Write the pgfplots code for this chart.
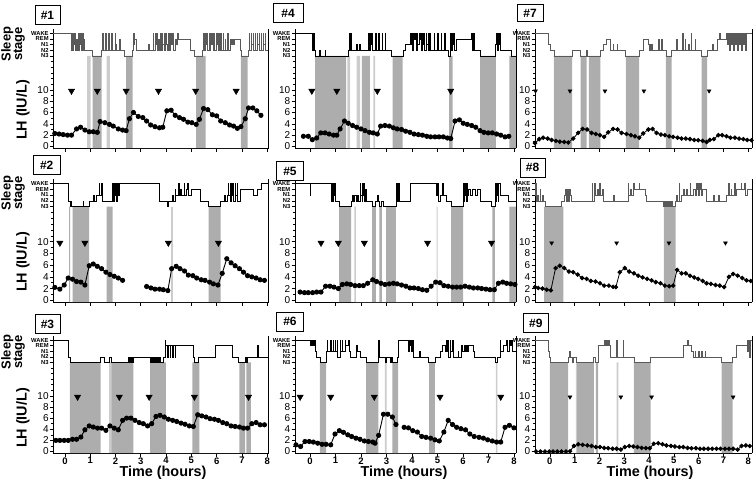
\documentclass[border=0pt]{standalone}
\usepackage{pgfplots}
\pgfplotsset{compat=1.18}
\usepackage{fontspec}
\setmainfont{Liberation Sans}
\definecolor{shd}{gray}{0.68}
\definecolor{shl}{gray}{0.80}
\newcommand{\stg}[1]{{\fontsize{5.8}{6}\selectfont\bfseries #1}}
\pgfplotsset{
  panel/.style={
    scale only axis, clip=false,
    axis x line*=bottom, axis y line*=left,
    axis line style={line width=0.8pt},
    every tick/.style={line width=0.6pt, black},
    tick align=outside, major tick length=3.5pt, minor tick length=2.2pt,
    ymin=-0.3, ymax=20.8,
    xtick={0,1,2,3,4,5,6,7,8}, xticklabels={},
    ytick={0,2,4,6,8,10,16,17,18,19,20},
    yticklabels={0,2,4,6,8,10,\stg{N3},\stg{N2},\stg{N1},\stg{REM},\stg{WAKE}},
    minor ytick={1,3,5,7,9,11,12,13,14,15},
    yticklabel style={font=\fontsize{10}{10}\selectfont, inner sep=1pt},
    after end axis/.append code={\draw[line width=0.8pt] (rel axis cs:1,0)--(rel axis cs:1,1);},
  },
  col1/.style={xmin=-0.46,xmax=8.05,width=215.2pt},
  col2/.style={xmin=-0.59,xmax=8.08,width=221pt},
  col3/.style={xmin=-0.6,xmax=8.15,width=217pt},
  row1/.style={height=119.6pt},
  row2/.style={height=123.4pt},
  row3/.style={height=117.5pt, xticklabels={0,1,2,3,4,5,6,7,8},
     xticklabel style={font=\fontsize{9.5}{9.5}\selectfont\bfseries, inner sep=0.5pt}},
  hyp/.style={const plot, line width=0.55pt, black, no marks},
  hypg/.style={const plot, line width=0.55pt, black!65, no marks},
  lh/.style={black, line width=0.9pt, mark=*, mark size=2.1pt, mark options={fill=black}},
  lhs/.style={black, line width=0.8pt, mark=*, mark size=1.85pt, mark options={fill=black}},
  tri/.style={only marks, mark=triangle*, mark size=3.6pt, mark options={rotate=180, fill=black, draw=black}},
  tris/.style={only marks, mark=triangle*, mark size=2.3pt, mark options={rotate=180, fill=black, draw=black}},
}
\begin{document}
\begin{tikzpicture}
\path[use as bounding box] (0,0) rectangle (756pt,483pt);

% ================= Panel 1 =================
\begin{axis}[panel,col1,row1,at={(53.3pt,334.8pt)},anchor=south west]
\addplot[fill=shl,draw=none] coordinates {(0.88,-0.3)(0.88,16)(1.02,16)(1.02,-0.3)(1.65,-0.3)(1.65,16)(1.78,16)(1.78,-0.3)} -- cycle;
\addplot[fill=shd,draw=none] coordinates {(1.10,-0.3)(1.10,16)(1.45,16)(1.45,-0.3)(2.42,-0.3)(2.42,16)(2.68,16)(2.68,-0.3)(5.19,-0.3)(5.19,16)(5.56,16)(5.56,-0.3)(6.96,-0.3)(6.96,16)(7.22,16)(7.22,-0.3)} -- cycle;
\addplot[hypg] coordinates {(-0.46,20)(0.25,17)(0.28,20)(0.30,17)(0.34,20)(0.36,18)(0.40,20)(0.42,17)(0.46,19)(0.48,17)(0.52,20)(0.54,17)(0.58,20)(0.60,18)(0.64,20)(0.66,17)(0.70,20)(0.72,17)(0.76,19)(0.78,17)(1.08,16)(1.45,17)(1.47,20)(1.50,17)(1.60,20)(1.62,17)(1.72,20)(1.74,17)(1.85,20)(1.87,17)(1.98,20)(2.00,18)(2.04,17)(2.15,19)(2.17,17)(2.36,16)(2.68,17)(2.70,20)(2.73,18)(2.76,19)(2.84,17)(3.30,18)(3.32,17)(3.49,20)(3.51,17)(3.56,20)(3.58,18)(3.63,20)(3.65,17)(3.70,19)(3.72,17)(3.77,20)(3.79,17)(3.84,20)(3.86,18)(3.91,20)(3.93,17)(3.98,20)(4.00,18)(4.05,17)(4.10,20)(4.12,17)(4.18,20)(4.20,18)(4.26,20)(4.28,17)(4.38,19)(4.40,18)(4.45,20)(4.48,19)(4.94,17)(5.13,16)(5.45,17)(5.48,20)(5.50,17)(5.55,20)(5.57,18)(5.62,20)(5.64,17)(5.69,20)(5.71,17)(5.76,20)(5.78,18)(5.83,20)(5.85,17)(5.90,20)(5.92,17)(5.97,20)(5.99,18)(6.04,20)(6.06,17)(6.11,20)(6.13,17)(6.18,20)(6.20,17)(6.26,20)(6.28,17)(6.33,19)(6.36,17)(6.42,20)(6.45,17)(6.52,19)(6.56,18)(6.58,19)(6.62,18)(6.64,19)(6.68,18)(6.70,19)(6.92,17)(6.98,16)(7.25,17)(7.28,20)(7.30,17)(7.36,20)(7.38,18)(7.44,20)(7.46,17)(7.52,20)(7.54,17)(7.60,20)(7.62,18)(7.68,20)(7.70,17)(7.76,20)(7.78,17)(7.84,20)(7.86,18)(7.92,20)(7.94,17)(8.05,17)};
\addplot[tri] coordinates {(0.26,9.8)(1.28,9.8)(2.42,9.8)(3.70,9.8)(5.17,9.8)(6.77,9.8)};
\addplot[lh] coordinates {(-0.40,2.3)(-0.23,2.2)(-0.07,2.1)(0.10,2.0)(0.26,2.0)(0.46,3.1)(0.62,3.4)(0.79,2.9)(0.96,2.6)(1.12,2.6)(1.28,2.5)(1.39,4.4)(1.58,4.2)(1.76,3.9)(1.91,3.6)(2.11,3.1)(2.28,2.9)(2.42,2.8)(2.55,4.9)(2.71,6.0)(2.90,5.3)(3.08,5.1)(3.23,4.5)(3.39,3.8)(3.56,3.5)(3.74,3.3)(3.87,3.4)(4.03,6.3)(4.20,6.4)(4.36,5.5)(4.53,5.1)(4.69,4.8)(4.86,4.3)(5.02,4.2)(5.19,3.9)(5.32,4.8)(5.48,6.7)(5.65,6.5)(5.83,5.6)(6.00,5.4)(6.16,4.5)(6.34,4.2)(6.51,3.8)(6.67,3.6)(6.82,3.2)(6.96,3.5)(7.13,4.9)(7.26,6.8)(7.43,6.8)(7.59,6.3)(7.75,5.5)};
\end{axis}

% ================= Panel 4 =================
\begin{axis}[panel,col2,row1,at={(295pt,334.8pt)},anchor=south west]
\addplot[fill=shl,draw=none] coordinates {(1.46,-0.3)(1.46,16)(1.57,16)(1.57,-0.3)(1.83,-0.3)(1.83,16)(1.96,16)(1.96,-0.3)(2.48,-0.3)(2.48,16)(2.55,16)(2.55,-0.3)} -- cycle;
\addplot[fill=shd,draw=none] coordinates {(0.20,-0.3)(0.20,16)(1.42,16)(1.42,-0.3)(2.03,-0.3)(2.03,16)(2.35,16)(2.35,-0.3)(3.24,-0.3)(3.24,16)(3.63,16)(3.63,-0.3)(5.46,-0.3)(5.46,16)(5.59,16)(5.59,-0.3)(6.67,-0.3)(6.67,16)(7.29,16)(7.29,-0.3)(7.82,-0.3)(7.82,16)(8.08,16)(8.08,-0.3)} -- cycle;
\addplot[hyp] coordinates {(-0.59,20)(0.07,19)(0.10,17)(0.13,20)(0.15,17)(0.22,16)(0.38,17)(0.41,16)(0.58,17)(0.61,16)(1.50,17)(1.52,20)(1.55,17)(1.58,20)(1.60,18)(1.63,17)(1.82,18)(1.84,17)(1.95,18)(1.97,17)(2.29,20)(2.31,17)(2.35,20)(2.37,18)(2.41,20)(2.43,17)(2.56,20)(2.58,17)(2.68,20)(2.70,17)(2.82,20)(2.84,17)(2.95,20)(2.97,17)(3.20,16)(3.66,17)(3.75,18)(3.92,20)(3.94,18)(3.99,20)(4.01,17)(4.06,20)(4.08,19)(4.13,20)(4.15,17)(4.20,20)(4.22,18)(4.27,20)(4.29,19)(4.34,20)(4.36,17)(4.41,20)(4.43,18)(4.48,20)(4.50,17)(4.55,20)(4.57,18)(4.62,20)(4.64,17)(4.69,20)(4.71,17)(4.87,20)(4.89,17)(5.00,20)(5.02,17)(5.13,20)(5.15,17)(5.27,20)(5.29,17)(5.42,16)(5.49,17)(5.52,20)(5.54,17)(5.58,20)(5.60,18)(5.64,20)(5.67,17)(5.75,19)(6.34,20)(6.38,17)(6.40,20)(6.44,17)(6.67,16)(7.25,17)(7.28,18)(7.31,20)(7.33,17)(7.37,20)(7.39,18)(7.42,20)(7.45,17)(7.91,16)(8.08,16)};
\addplot[tri] coordinates {(0.07,9.8)(1.05,9.8)(2.64,9.8)(5.52,9.8)};
\addplot[lh] coordinates {(-0.26,1.8)(-0.07,1.8)(0.09,1.2)(0.26,1.5)(0.42,2.4)(0.59,2.4)(0.75,2.2)(0.92,2.0)(1.05,2.0)(1.18,3.1)(1.35,4.5)(1.50,4.1)(1.67,3.7)(1.83,3.4)(2.00,3.1)(2.16,2.8)(2.33,2.5)(2.48,2.4)(2.64,2.2)(2.77,3.6)(2.94,3.7)(3.11,3.6)(3.27,3.3)(3.42,3.1)(3.59,3.0)(3.75,2.7)(3.92,2.5)(4.08,2.2)(4.25,2.1)(4.41,2.0)(4.58,1.8)(4.73,1.7)(4.90,1.7)(5.06,1.7)(5.23,1.7)(5.39,1.5)(5.52,1.4)(5.69,4.5)(5.86,4.7)(6.01,4.1)(6.17,3.9)(6.34,3.7)(6.50,3.4)(6.67,2.8)(6.82,2.5)(6.99,2.4)(7.15,2.4)(7.32,2.2)(7.48,2.0)(7.65,1.7)(7.80,1.8)};
\end{axis}

% ================= Panel 7 =================
\begin{axis}[panel,col3,row1,at={(535pt,334.8pt)},anchor=south west]
\addplot[fill=shd,draw=none] coordinates {(0.16,-0.3)(0.16,16)(0.90,16)(0.90,-0.3)(1.24,-0.3)(1.24,16)(1.48,16)(1.48,-0.3)(1.57,-0.3)(1.57,16)(2.04,16)(2.04,-0.3)(3.06,-0.3)(3.06,16)(3.60,16)(3.60,-0.3)(4.68,-0.3)(4.68,16)(4.91,16)(4.91,-0.3)(6.12,-0.3)(6.12,16)(6.34,16)(6.34,-0.3)} -- cycle;
\addplot[hypg] coordinates {(-0.6,20)(-0.07,18)(0.02,17)(0.16,16)(0.90,17)(1.21,16)(1.46,17)(1.50,16)(2.04,17)(2.15,18)(2.28,19)(2.42,17)(2.55,18)(2.57,17)(2.70,18)(2.72,17)(3.02,16)(3.60,17)(3.76,19)(3.97,18)(4.02,17)(4.05,18)(4.08,17)(4.12,18)(4.14,17)(4.37,19)(4.40,17)(4.50,19)(4.52,17)(4.68,16)(4.91,17)(5.10,19)(5.12,17)(5.35,20)(5.37,17)(5.45,19)(5.47,17)(5.60,18)(5.62,17)(5.70,20)(5.72,17)(5.85,19)(5.87,17)(6.12,16)(6.34,17)(6.55,18)(6.58,17)(6.75,19)(6.85,20)(6.87,19)(7.12,20)(7.15,18)(7.21,20)(7.23,17)(7.29,20)(7.31,18)(7.37,20)(7.39,17)(7.45,20)(7.47,18)(7.53,20)(7.55,17)(7.61,20)(7.63,18)(7.69,20)(7.71,17)(7.77,20)(7.79,18)(7.85,20)(7.87,17)(7.92,20)(8.15,20)};
\addplot[tris] coordinates {(-0.58,9.8)(0.81,9.8)(2.22,9.8)(3.79,9.8)(6.42,9.8)};
\addplot[lhs] coordinates {(-0.60,0.6)(-0.43,1.3)(-0.27,1.55)(-0.09,1.4)(0.07,1.15)(0.24,1.0)(0.40,0.85)(0.58,0.8)(0.74,0.7)(0.94,1.4)(1.14,2.4)(1.32,3.1)(1.50,3.0)(1.68,2.4)(1.85,2.2)(2.02,2.0)(2.19,1.7)(2.35,2.5)(2.55,3.1)(2.73,3.0)(2.89,2.4)(3.09,2.2)(3.27,2.0)(3.43,1.8)(3.60,1.55)(3.76,2.3)(3.97,3.0)(4.14,3.1)(4.30,2.4)(4.48,2.1)(4.64,2.0)(4.81,1.8)(4.97,1.7)(5.15,1.55)(5.31,1.4)(5.48,1.4)(5.65,1.3)(5.82,1.15)(5.98,1.1)(6.16,1.0)(6.32,0.8)(6.45,1.15)(6.61,1.3)(6.79,2.0)(6.95,2.0)(7.12,1.8)(7.28,1.55)(7.46,1.55)(7.63,1.4)(7.80,1.3)(7.96,1.15)(8.13,1.1)};
\end{axis}

% ================= Panel 2 =================
\begin{axis}[panel,col1,row2,at={(53.3pt,181pt)},anchor=south west]
\addplot[fill=shl,draw=none] coordinates {(4.18,-0.3)(4.18,16)(4.29,16)(4.29,-0.3)} -- cycle;
\addplot[fill=shd,draw=none] coordinates {(0.17,-0.3)(0.17,16)(0.21,16)(0.21,-0.3)(0.30,-0.3)(0.30,16)(0.96,16)(0.96,-0.3)(1.65,-0.3)(1.65,16)(1.89,16)(1.89,-0.3)(5.68,-0.3)(5.68,16)(6.16,16)(6.16,-0.3)} -- cycle;
\addplot[hyp] coordinates {(-0.46,20)(0.13,17)(0.20,16)(0.22,17)(0.26,16)(0.72,17)(0.74,16)(0.96,17)(1.12,18)(1.15,17)(1.25,18)(1.35,20)(1.37,18)(1.44,20)(1.46,17)(1.89,20)(1.91,17)(1.95,20)(1.97,18)(2.01,20)(2.03,17)(2.08,20)(2.10,18)(2.14,20)(3.74,17)(4.05,16)(4.10,17)(4.25,18)(4.28,17)(4.35,19)(4.38,18)(4.50,20)(4.52,18)(4.58,19)(4.62,18)(4.70,20)(4.72,18)(4.80,19)(4.85,20)(4.87,18)(5.00,19)(5.35,17)(5.68,16)(6.16,17)(6.30,18)(6.33,17)(6.40,18)(6.45,20)(6.47,18)(6.52,20)(6.54,17)(6.58,20)(6.60,18)(6.65,20)(6.67,17)(6.72,20)(6.74,18)(6.80,20)(6.82,17)(6.93,19)(7.46,18)(7.60,19)(7.75,20)(8.05,20)};
\addplot[tri] coordinates {(-0.20,9.8)(0.79,9.8)(4.09,9.8)(6.07,9.8)};
\addplot[lh] coordinates {(-0.40,2.2)(-0.20,1.9)(-0.03,2.6)(0.13,3.8)(0.30,3.6)(0.46,3.2)(0.63,3.1)(0.79,2.6)(0.96,5.9)(1.12,6.2)(1.28,5.8)(1.45,5.4)(1.62,4.8)(1.78,4.4)(1.95,4.1)(2.11,3.8)(2.28,3.4)};
\addplot[lh] coordinates {(3.23,2.35)(3.40,2.1)(3.56,1.9)(3.74,1.9)(3.89,1.8)(4.07,1.65)(4.22,5.4)(4.40,5.8)(4.55,5.4)(4.73,5.0)(4.88,4.3)(5.06,4.2)(5.21,3.8)(5.39,3.5)(5.54,3.4)(5.72,3.1)(5.87,2.8)(6.05,2.6)(6.22,4.6)(6.40,7.1)(6.57,6.4)(6.73,5.9)(6.90,5.4)(7.06,4.8)(7.22,4.2)(7.39,4.0)(7.56,3.8)(7.72,3.5)(7.89,3.4)};
\end{axis}

% ================= Panel 5 =================
\begin{axis}[panel,col2,row2,at={(295pt,181pt)},anchor=south west]
\addplot[fill=shl,draw=none] coordinates {(1.74,-0.3)(1.74,16)(1.80,16)(1.80,-0.3)(4.97,-0.3)(4.97,16)(5.01,16)(5.01,-0.3)} -- cycle;
\addplot[fill=shd,draw=none] coordinates {(1.14,-0.3)(1.14,16)(1.61,16)(1.61,-0.3)(2.44,-0.3)(2.44,16)(2.58,16)(2.58,-0.3)(2.72,-0.3)(2.72,16)(2.82,16)(2.82,-0.3)(2.98,-0.3)(2.98,16)(3.37,16)(3.37,-0.3)(5.53,-0.3)(5.53,16)(6.01,16)(6.01,-0.3)(7.15,-0.3)(7.15,16)(7.25,16)(7.25,-0.3)(7.82,-0.3)(7.82,16)(8.08,16)(8.08,-0.3)} -- cycle;
\addplot[hyp] coordinates {(-0.59,20)(0.00,18)(0.02,20)(0.85,17)(0.87,20)(0.90,17)(0.93,20)(0.95,18)(0.98,20)(1.00,17)(1.14,16)(1.63,17)(1.66,18)(1.70,17)(1.74,18)(1.80,17)(1.84,18)(1.88,17)(1.96,20)(1.98,18)(2.03,17)(2.06,20)(2.08,18)(2.12,20)(2.14,17)(2.18,19)(2.21,17)(2.46,16)(2.55,17)(2.62,18)(2.66,17)(2.72,16)(2.80,17)(2.88,16)(3.40,20)(3.42,17)(3.45,20)(3.47,18)(3.50,20)(3.52,17)(3.92,20)(4.97,18)(5.00,20)(5.02,17)(5.10,18)(5.20,20)(5.22,18)(5.36,17)(5.56,16)(6.01,20)(6.03,17)(6.06,20)(6.08,18)(6.11,20)(6.13,17)(6.16,20)(6.18,18)(6.21,19)(6.30,18)(6.35,19)(6.50,18)(6.55,19)(6.67,17)(7.12,16)(7.25,20)(7.27,17)(7.30,20)(7.32,18)(7.35,20)(7.37,17)(7.40,20)(7.45,18)(7.78,17)(8.08,17)};
\addplot[tri] coordinates {(0.43,9.8)(1.11,9.8)(2.13,9.8)(4.61,9.8)(7.12,9.8)};
\addplot[lh] coordinates {(-0.39,1.4)(-0.22,1.3)(-0.07,1.3)(0.10,1.3)(0.26,1.4)(0.43,1.4)(0.61,2.4)(0.78,2.4)(0.94,2.25)(1.11,2.0)(1.27,2.7)(1.44,2.8)(1.59,2.7)(1.76,2.5)(1.93,2.5)(2.09,2.5)(2.26,2.9)(2.46,3.5)(2.61,3.2)(2.78,2.9)(2.94,2.7)(3.11,2.8)(3.27,2.9)(3.42,2.8)(3.59,2.6)(3.76,2.4)(3.92,2.1)(4.08,2.1)(4.25,2.0)(4.41,1.8)(4.58,1.7)(4.75,2.4)(4.93,3.1)(5.10,3.0)(5.25,2.5)(5.42,2.4)(5.59,2.25)(5.75,2.25)(5.91,2.25)(6.08,2.4)(6.25,2.25)(6.41,2.1)(6.58,2.1)(6.73,2.0)(6.90,1.9)(7.06,1.8)(7.23,1.8)(7.39,2.9)(7.56,3.1)(7.71,2.9)(7.87,2.8)(8.04,2.7)};
\end{axis}

% ================= Panel 8 =================
\begin{axis}[panel,col3,row2,at={(535pt,181pt)},anchor=south west]
\addplot[fill=shd,draw=none] coordinates {(-0.23,-0.3)(-0.23,16)(0.54,16)(0.54,-0.3)(4.60,-0.3)(4.60,16)(5.07,16)(5.07,-0.3)} -- cycle;
\addplot[hypg] coordinates {(-0.60,18)(-0.57,20)(-0.55,17)(-0.50,18)(-0.45,17)(-0.40,19)(-0.38,17)(-0.30,18)(-0.27,17)(-0.20,16)(0.47,17)(0.60,18)(0.64,19)(0.66,17)(0.72,19)(0.75,17)(0.80,19)(0.83,18)(0.87,17)(1.70,20)(1.72,17)(1.80,20)(1.82,18)(1.90,19)(1.95,18)(2.00,20)(2.02,18)(2.10,19)(2.15,17)(2.55,18)(2.58,17)(3.16,20)(3.18,18)(3.25,19)(3.28,18)(3.38,20)(3.40,19)(3.60,20)(3.62,19)(3.85,18)(3.90,17)(4.57,16)(4.60,17)(4.62,16)(4.66,17)(4.68,16)(4.72,17)(4.74,16)(4.78,17)(4.80,16)(4.84,17)(4.86,16)(4.90,17)(4.92,16)(5.04,17)(5.10,18)(5.12,17)(5.20,20)(5.22,17)(5.30,18)(5.38,19)(5.40,18)(5.50,19)(5.52,18)(5.65,20)(5.67,18)(5.80,19)(5.85,18)(5.91,20)(5.93,19)(5.97,20)(5.99,18)(6.03,20)(6.05,19)(6.09,20)(6.11,18)(6.15,19)(6.32,17)(6.60,18)(6.62,17)(6.80,18)(6.83,17)(7.12,18)(7.20,20)(7.22,18)(7.30,19)(7.33,18)(7.45,20)(7.47,18)(7.53,19)(7.70,20)(7.72,19)(7.85,20)(7.87,18)(7.95,19)(8.15,19)};
\addplot[tris] coordinates {(0.07,9.8)(2.69,9.8)(4.80,9.8)(7.08,9.8)};
\addplot[lhs] coordinates {(-0.60,2.25)(-0.47,2.1)(-0.30,2.0)(-0.13,1.8)(0.04,1.7)(0.23,5.5)(0.40,5.9)(0.58,5.5)(0.77,4.9)(0.94,4.8)(1.12,4.4)(1.30,3.8)(1.48,3.65)(1.65,3.3)(1.84,3.2)(2.02,2.9)(2.19,2.5)(2.38,2.5)(2.55,2.3)(2.66,2.25)(2.82,4.8)(3.02,5.5)(3.20,4.9)(3.39,4.6)(3.56,4.2)(3.74,3.9)(3.92,3.65)(4.10,3.4)(4.27,3.1)(4.46,2.9)(4.64,2.5)(4.81,2.4)(4.97,2.5)(5.13,5.2)(5.31,4.6)(5.48,4.6)(5.65,4.2)(5.82,3.9)(5.98,3.65)(6.16,3.3)(6.32,2.9)(6.49,2.8)(6.68,2.6)(6.85,2.5)(7.03,2.25)(7.22,4.0)(7.39,4.5)(7.57,4.2)(7.76,3.8)(7.93,3.4)(8.10,3.3)};
\end{axis}

% ================= Panel 3 =================
\begin{axis}[panel,col1,row3,at={(53.3pt,29.8pt)},anchor=south west]
\addplot[fill=shl,draw=none] coordinates {(1.76,-0.3)(1.76,16)(1.85,16)(1.85,-0.3)} -- cycle;
\addplot[fill=shd,draw=none] coordinates {(0.20,-0.3)(0.20,16)(1.41,16)(1.41,-0.3)(1.85,-0.3)(1.85,16)(2.71,16)(2.71,-0.3)(3.37,-0.3)(3.37,16)(3.99,16)(3.99,-0.3)(5.04,-0.3)(5.04,16)(5.32,16)(5.32,-0.3)(6.90,-0.3)(6.90,16)(7.13,16)(7.13,-0.3)(7.17,-0.3)(7.17,16)(7.35,16)(7.35,-0.3)} -- cycle;
\addplot[hyp] coordinates {(-0.46,20)(0.13,17)(0.22,16)(1.41,17)(1.54,16)(1.76,17)(1.85,16)(2.51,17)(2.53,16)(2.56,17)(2.58,16)(2.61,17)(2.63,16)(2.66,17)(2.68,16)(2.71,17)(3.37,16)(3.42,17)(3.44,16)(3.50,17)(3.52,16)(3.58,17)(3.60,16)(3.66,17)(3.68,16)(3.75,17)(3.77,16)(3.90,17)(3.96,20)(3.98,19)(4.05,17)(4.07,19)(4.15,17)(4.17,19)(4.25,17)(4.27,19)(4.35,17)(4.37,19)(5.08,17)(5.10,16)(5.28,17)(5.94,19)(6.60,17)(6.86,16)(7.13,17)(7.16,16)(7.22,17)(7.59,19)(7.66,17)(8.05,17)};
\addplot[tri] coordinates {(0.50,9.8)(2.15,9.8)(3.33,9.8)(5.12,9.8)(7.26,9.8)};
\addplot[lh] coordinates {(-0.36,2.0)(-0.20,2.0)(-0.03,2.0)(0.13,2.0)(0.30,2.2)(0.46,2.2)(0.63,2.6)(0.79,3.9)(0.96,4.6)(1.12,4.4)(1.29,4.2)(1.45,4.2)(1.62,3.8)(1.78,4.6)(1.95,4.2)(2.11,3.9)(2.28,5.6)(2.44,6.0)(2.61,6.0)(2.77,5.6)(2.94,5.2)(3.10,5.0)(3.27,4.6)(3.43,5.0)(3.60,6.3)(3.76,6.5)(3.93,6.2)(4.09,5.8)(4.26,5.6)(4.42,5.4)(4.59,5.1)(4.75,4.9)(4.92,4.6)(5.08,4.5)(5.25,6.6)(5.41,6.4)(5.58,6.2)(5.74,5.9)(5.91,5.8)(6.07,5.6)(6.24,5.2)(6.40,5.0)(6.57,4.6)(6.73,4.5)(6.90,4.4)(7.06,4.2)(7.22,4.2)(7.39,5.0)(7.56,5.2)(7.72,4.8)(7.89,4.8)};
\end{axis}

% ================= Panel 6 =================
\begin{axis}[panel,col2,row3,at={(295pt,29.8pt)},anchor=south west]
\addplot[fill=shl,draw=none] coordinates {(2.94,-0.3)(2.94,16)(3.00,16)(3.00,-0.3)(7.29,-0.3)(7.29,16)(7.35,16)(7.35,-0.3)} -- cycle;
\addplot[fill=shd,draw=none] coordinates {(0.39,-0.3)(0.39,16)(0.63,16)(0.63,-0.3)(2.20,-0.3)(2.20,16)(2.68,16)(2.68,-0.3)(3.23,-0.3)(3.23,16)(3.46,16)(3.46,-0.3)(4.67,-0.3)(4.67,16)(4.90,16)(4.90,-0.3)} -- cycle;
\addplot[hyp] coordinates {(-0.59,20)(0.00,19)(0.03,20)(0.07,19)(0.10,20)(0.14,19)(0.17,20)(0.20,18)(0.26,17)(0.39,16)(0.63,17)(0.65,18)(0.67,20)(0.69,18)(0.80,20)(0.82,18)(0.90,20)(0.92,18)(0.98,20)(1.00,18)(1.05,20)(1.07,17)(1.18,20)(1.20,18)(1.25,20)(1.27,18)(1.38,20)(1.40,19)(1.50,20)(1.52,18)(1.57,17)(1.83,19)(1.86,18)(1.96,17)(2.22,16)(2.68,20)(2.70,17)(2.94,16)(3.00,17)(3.15,16)(3.18,17)(3.23,16)(3.42,17)(3.46,20)(3.86,18)(3.88,20)(3.92,19)(3.95,20)(3.98,18)(4.01,20)(4.05,17)(4.30,18)(4.32,17)(4.64,16)(4.90,17)(5.10,18)(5.18,19)(5.30,18)(5.36,20)(5.38,18)(5.42,20)(5.44,17)(5.50,20)(5.52,18)(5.58,20)(5.60,18)(5.62,17)(5.80,18)(5.83,17)(5.95,19)(5.97,18)(6.05,19)(6.08,18)(6.12,19)(6.15,18)(6.20,19)(6.40,18)(6.45,17)(7.25,16)(7.35,17)(7.45,20)(7.47,18)(7.60,19)(7.70,20)(7.72,18)(7.82,20)(7.84,19)(7.90,20)(7.92,18)(8.08,18)};
\addplot[tri] coordinates {(-0.39,9.8)(0.81,9.8)(2.52,9.8)(5.10,9.8)(7.48,9.8)};
\addplot[lh] coordinates {(-0.55,1.2)(-0.37,0.9)(-0.20,1.8)(-0.03,1.8)(0.13,1.7)(0.30,1.5)(0.47,1.3)(0.63,1.3)(0.81,1.2)(0.98,3.15)(1.15,3.75)(1.31,3.45)(1.48,3.0)(1.63,2.7)(1.80,2.4)(1.96,2.2)(2.13,1.9)(2.29,1.8)(2.46,1.7)(2.55,1.5)(2.69,2.9)(2.88,6.7)(3.05,6.7)(3.23,6.2)(3.37,4.85)};
\addplot[lh] coordinates {(3.69,4.35)(3.86,4.25)(4.03,3.75)(4.21,3.5)(4.38,2.7)(4.55,2.55)(4.73,2.4)(4.90,2.1)(5.07,1.9)(5.25,3.5)(5.42,5.6)(5.59,4.85)(5.75,4.35)(5.92,4.1)(6.10,3.9)(6.27,3.15)(6.44,2.7)(6.63,2.55)(6.80,2.4)(6.97,2.1)(7.15,1.9)(7.32,1.7)(7.48,1.7)(7.65,4.35)(7.82,4.7)(8.00,4.25)};
\end{axis}

% ================= Panel 9 =================
\begin{axis}[panel,col3,row3,at={(535pt,29.8pt)},anchor=south west]
\addplot[fill=shl,draw=none] coordinates {(1.05,-0.3)(1.05,16)(1.10,16)(1.10,-0.3)(2.69,-0.3)(2.69,16)(2.76,16)(2.76,-0.3)} -- cycle;
\addplot[fill=shd,draw=none] coordinates {(0.00,-0.3)(0.00,16)(0.74,16)(0.74,-0.3)(1.10,-0.3)(1.10,16)(1.77,16)(1.77,-0.3)(1.85,-0.3)(1.85,16)(1.95,16)(1.95,-0.3)(3.39,-0.3)(3.39,16)(4.06,16)(4.06,-0.3)(6.92,-0.3)(6.92,16)(7.37,16)(7.37,-0.3)} -- cycle;
\addplot[hypg] coordinates {(-0.60,20)(-0.07,18)(-0.03,17)(0.00,16)(0.74,17)(0.80,18)(0.82,17)(0.90,16)(0.95,17)(1.05,16)(1.75,17)(1.85,16)(1.95,19)(2.20,20)(2.22,19)(2.28,20)(2.30,19)(2.36,20)(2.38,19)(2.42,17)(2.69,20)(2.71,17)(2.95,20)(2.97,17)(3.39,16)(4.06,17)(5.38,19)(5.55,20)(5.57,19)(5.71,18)(5.80,17)(5.85,18)(5.88,17)(6.00,18)(6.02,17)(6.10,18)(6.13,17)(6.25,18)(6.28,17)(6.92,16)(7.37,17)(7.50,19)(7.95,20)(7.97,18)(8.00,20)(8.03,17)(8.08,20)(8.15,20)};
\addplot[tris] coordinates {(0.81,9.8)(2.86,9.8)(4.10,9.8)(7.39,9.8)};
\addplot[lhs] coordinates {(-0.56,0)(-0.38,0)(-0.20,0)(-0.03,0)(0.13,0)(0.30,0)(0.47,0)(0.65,0)(0.81,0.05)(0.97,1.0)(1.14,1.3)(1.32,1.2)(1.51,1.1)(1.68,1.0)(1.85,0.8)(2.02,0.8)(2.19,0.65)(2.35,0.6)(2.53,0.5)(2.69,0.5)(2.86,0.35)(3.02,0.8)(3.20,1.0)(3.36,0.9)(3.53,0.8)(3.70,0.65)(3.87,0.6)(4.03,0.6)(4.19,1.4)(4.37,1.5)(4.54,1.3)(4.70,1.1)(4.88,1.0)(5.04,0.9)(5.22,0.8)(5.38,0.8)(5.55,0.65)(5.71,0.6)(5.89,0.6)(6.05,0.5)(6.21,0.5)(6.38,0.5)(6.55,0.5)(6.72,0.5)(6.88,0.5)(7.06,0.5)(7.22,0.5)(7.39,0.5)(7.57,0.35)(7.73,1.0)(7.90,1.1)(8.06,1.0)};
\end{axis}

% ================= Labels =================
\foreach \yy in {439,290,131}{\node[rotate=90,align=center,inner sep=0pt,font=\fontsize{13}{11.5}\selectfont\bfseries] at (13pt,\yy pt) {Sleep\\stage};}
\foreach \yy in {373,221,65}{\node[rotate=90,inner sep=0pt,font=\fontsize{14.4}{15}\selectfont\bfseries] at (23pt,\yy pt) {LH (IU/L)};}
\foreach \xx in {163,404,650}{\node[inner sep=0pt,font=\fontsize{14.4}{15}\selectfont\bfseries] at (\xx pt,10pt) {Time (hours)};}
\tikzset{bx/.style={draw, line width=0.8pt, fill=white, minimum height=19pt, inner sep=0pt, font=\fontsize{12}{12}\selectfont\bfseries}}
\node[bx, minimum width=25pt] at (47.5pt,468pt) {\#1};
\node[bx, minimum width=30pt] at (288pt,470pt) {\#4};
\node[bx, minimum width=26pt, minimum height=17pt] at (530pt,469.7pt) {\#7};
\node[bx, minimum width=27pt] at (46.7pt,318pt) {\#2};
\node[bx, minimum width=27pt] at (290pt,312pt) {\#5};
\node[bx, minimum width=25pt] at (532.5pt,315.5pt) {\#8};
\node[bx, minimum width=25pt] at (47.5pt,159pt) {\#3};
\node[bx, minimum width=27pt] at (290pt,161.3pt) {\#6};
\node[bx, minimum width=25pt] at (535.8pt,159.7pt) {\#9};
\end{tikzpicture}
\end{document}
